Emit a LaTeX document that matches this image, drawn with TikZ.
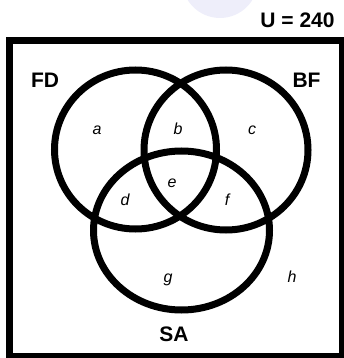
\documentclass[tikz,border=0pt]{standalone}
\usepackage{fontspec}
\setmainfont{Liberation Sans}
\begin{document}
\begin{tikzpicture}[x=1pt,y=-1pt,
  setline/.style={line width=7pt,draw=black},
  setname/.style={font=\bfseries\fontsize{21}{21}\selectfont,inner sep=0pt},
  region/.style={font=\itshape\fontsize{16}{16}\selectfont,inner sep=0pt,anchor=base}]
\useasboundingbox (0,0) rectangle (343,358);
\fill[fill={rgb,255:red,238;green,238;blue,250}] (220,-20) circle[radius=38];
% universe box
\draw[setline] (9.5,40.5) rectangle (342.5,356.5);
% sets
\draw[setline] (135.5,149.5) ellipse[x radius=81, y radius=79.5];
\draw[setline] (226,150) ellipse[x radius=82, y radius=80];
\draw[setline] (181.5,230.5) ellipse[x radius=88, y radius=79.5];
% labels
\node[setname] (U) at (297.5,20.5) {U = 240};
\node[setname] (FD) at (45,80.5) {FD};
\node[setname] (BF) at (306.5,80.5) {BF};
\node[setname] (SA) at (174,334.5) {SA};
\node[region] (ra) at (97,135) {a};
\node[region] (rb) at (178,135) {b};
\node[region] (rc) at (252,135) {c};
\node[region] (rd) at (125,205) {d};
\node[region] (re) at (172,187) {e};
\node[region] (rf) at (227,205) {f};
\node[region] (rg) at (168,282) {g};
\node[region] (rh) at (292,282) {h};
\end{tikzpicture}
\end{document}
